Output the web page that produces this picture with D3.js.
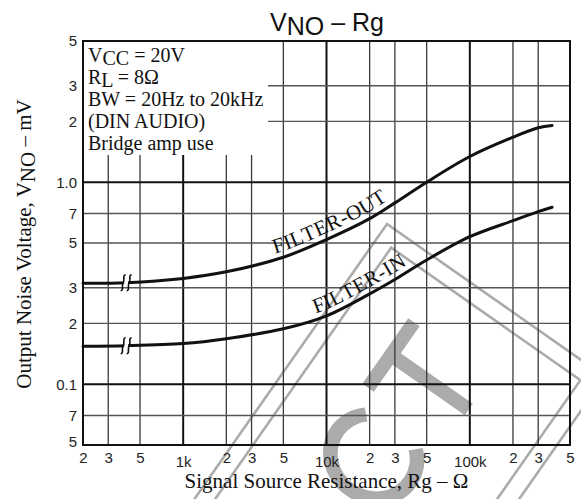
<!DOCTYPE html>
<html><head><meta charset="utf-8">
<script src="https://cdn.jsdelivr.net/npm/d3@7"></script>
<style>body{margin:0;background:#fff}svg{display:block}</style>
</head><body><svg id="chart" width="581" height="499"></svg>
<script>
// Axis ticks and labels
const rgTicks = [200, 300, 500, 1e3, 2e3, 3e3, 5e3, 1e4, 2e4, 3e4, 5e4, 1e5, 2e5, 3e5, 5e5];
const rgTickLabels = ["2", "3", "5", "1k", "2", "3", "5", "10k", "2", "3", "5", "100k", "2", "3", "5"];
const vTicks = [5, 3, 2, 1, 0.7, 0.5, 0.3, 0.2, 0.1, 0.07, 0.05];
const vTickLabels = ["5", "3", "2", "1.0", "7", "5", "3", "2", "0.1", "7", "5"];

// Output noise voltage (mV) vs signal source resistance (ohm)
const rgPoints = [200, 400, 1e3, 2e3, 5e3, 1e4, 2e4, 3e4, 5e4, 1e5, 2e5, 3e5, 3.75e5];
const filterOut = [0.316, 0.318, 0.334, 0.360, 0.425, 0.52, 0.66, 0.79, 1.0, 1.34, 1.67, 1.86, 1.91];
const filterIn = [0.154, 0.155, 0.159, 0.168, 0.188, 0.218, 0.280, 0.330, 0.412, 0.537, 0.645, 0.715, 0.752];
const breakAt = 400;

const conditions = ["BW = 20Hz to 20kHz", "(DIN AUDIO)", "Bridge amp use"];

const W = 581, H = 499;
const m = {left: 83, top: 41, right: 11, bottom: 54};
const svg = d3.select("#chart");

const x = d3.scaleLog().domain([200, 5e5]).range([m.left, W - m.right]);
const y = d3.scaleLog().domain([0.05, 5]).range([H - m.bottom, m.top]);

const serif = "'Liberation Serif','Times New Roman',serif";
const sans = "'Liberation Sans',Arial,sans-serif";

// ---- stamp in the background ----
const stampGray = "#ababab";
// double frame, tilted, with its corner at (387,224)
const frame = svg.append("g").attr("transform", "translate(387,224) rotate(-55)")
  .attr("fill", "none").attr("stroke", stampGray).attr("stroke-width", 2.6);
frame.append("rect").attr("x", -900).attr("y", 0).attr("width", 900).attr("height", 266);
frame.append("rect").attr("x", -900).attr("y", 17).attr("width", 883).attr("height", 231);
// lettering "...CT"
const letters = svg.append("g").attr("transform", "translate(391,355) rotate(-55)").attr("fill", stampGray);
letters.append("rect").attr("x", -40).attr("y", -7).attr("width", 80).attr("height", 14);
letters.append("rect").attr("x", -7).attr("y", 0).attr("width", 14).attr("height", 95);
letters.append("path").attr("transform", "translate(-93,44) scale(0.92,1)")
  .attr("d", d3.arc().innerRadius(37).outerRadius(52).startAngle(Math.PI / 2 + 0.75).endAngle(Math.PI * 2.5 - 0.75)());

// ---- grid ----
const innerX = rgTicks.slice(1, -1);
const innerY = vTicks.slice(1, -1);
const isDecade = v => Math.abs(Math.log10(v) - Math.round(Math.log10(v))) < 1e-9;

const grid = svg.append("g");
grid.selectAll("line.v").data(innerX).join("line")
  .attr("x1", d => x(d)).attr("x2", d => x(d))
  .attr("y1", m.top).attr("y2", H - m.bottom)
  .attr("stroke", d => isDecade(d) ? "#111" : "#3a3a3a")
  .attr("stroke-width", d => isDecade(d) ? 2 : 1.3);
grid.selectAll("line.h").data(innerY).join("line")
  .attr("x1", m.left).attr("x2", W - m.right)
  .attr("y1", d => y(d)).attr("y2", d => y(d))
  .attr("stroke", d => isDecade(d) ? "#111" : "#555")
  .attr("stroke-width", d => isDecade(d) ? 2 : 1.4);

// white panel holding the operating conditions
svg.append("rect").attr("x", m.left + 1).attr("y", m.top + 1)
  .attr("width", 268 - m.left - 1).attr("height", 155 - m.top - 1).attr("fill", "#fff");

// frame
svg.append("rect").attr("x", m.left).attr("y", m.top)
  .attr("width", W - m.left - m.right).attr("height", H - m.top - m.bottom)
  .attr("fill", "none").attr("stroke", "#111").attr("stroke-width", 2);

// ---- tick labels ----
const yAxis = d3.axisLeft(y).tickValues(vTicks).tickSize(0).tickPadding(6)
  .tickFormat((d, i) => vTickLabels[i]);
const gy = svg.append("g").attr("transform", `translate(${m.left},0)`).call(yAxis);
gy.select(".domain").remove();
gy.selectAll("text").attr("font-family", sans).attr("font-size", 15).attr("fill", "#222");
gy.selectAll(".tick").filter(d => d === 0.05).select("text").attr("dy", "0.1em");

const xAxis = d3.axisBottom(x).tickValues(rgTicks).tickSize(0).tickPadding(7)
  .tickFormat((d, i) => rgTickLabels[i]);
const gx = svg.append("g").attr("transform", `translate(0,${H - m.bottom})`).call(xAxis);
gx.select(".domain").remove();
gx.selectAll("text").attr("font-family", sans).attr("font-size", 15).attr("fill", "#222");
gx.selectAll(".tick").filter(d => isDecade(d)).select("text").attr("dy", "1.0em");

// ---- curves ----
const line = d3.line().x(d => x(d[0])).y(d => y(d[1])).curve(d3.curveCatmullRom.alpha(0.5));
const series = [
  {name: "FILTER-OUT", values: filterOut, labelAt: 4.5e3},
  {name: "FILTER-IN", values: filterIn, labelAt: 8.7e3}
];
series.forEach((s, i) => {
  const pts = rgPoints.map((r, j) => [r, s.values[j]]);
  const path = svg.append("path").attr("d", line(pts))
    .attr("fill", "none").attr("stroke", "#111").attr("stroke-width", 3)
    .attr("stroke-linecap", "round");

  // label set letter by letter along the curve, a little above it
  const node = path.node();
  const total = node.getTotalLength();
  const startX = x(s.labelAt);
  let lo = 0, hi = total;
  for (let k = 0; k < 40; k++) {
    const mid = (lo + hi) / 2;
    if (node.getPointAtLength(mid).x < startX) lo = mid; else hi = mid;
  }
  const lab = svg.append("g").style("font-family", serif).style("font-size", "21px").attr("fill", "#111");
  let pos = lo;
  const gap = 0.6, lift = 6;
  for (const ch of s.name) {
    const t = lab.append("text").attr("text-anchor", "middle").text(ch);
    const w = t.node().getComputedTextLength();
    const c = pos + w / 2;
    const p = node.getPointAtLength(c);
    const a = node.getPointAtLength(Math.max(0, c - 2)), b = node.getPointAtLength(Math.min(total, c + 2));
    const ang = Math.atan2(b.y - a.y, b.x - a.x);
    const nx = Math.sin(ang), ny = -Math.cos(ang);
    t.attr("transform", `translate(${p.x + nx * lift},${p.y + ny * lift}) rotate(${ang * 180 / Math.PI})`);
    pos += w + gap;
  }

  // break mark on the flat section
  const bx = x(breakAt), by = y(s.values[rgPoints.indexOf(breakAt)]);
  const mk = svg.append("g").attr("transform", `translate(${bx},${by})`);
  mk.append("rect").attr("x", -2).attr("y", -2.5).attr("width", 4).attr("height", 5).attr("fill", "#fff");
  [-3, 3].forEach(dx => {
    mk.append("path")
      .attr("d", `M${dx + 2.5},-8 C${dx - 1},-8 ${dx + 2},-2 ${dx},0 C${dx - 2},2 ${dx + 1},8 ${dx - 2.5},8`)
      .attr("fill", "none").attr("stroke", "#111").attr("stroke-width", 1.6);
  });
});

// ---- operating conditions ----
const cond = svg.append("g").attr("font-family", serif).attr("font-size", 20).attr("fill", "#111");
const t1 = cond.append("text").attr("x", 88).attr("y", 62);
t1.append("tspan").text("V");
t1.append("tspan").attr("dy", 3).text("CC");
t1.append("tspan").attr("dy", -3).text(" = 20V");
const t2 = cond.append("text").attr("x", 88).attr("y", 84);
t2.append("tspan").text("R");
t2.append("tspan").attr("dy", 3).text("L");
t2.append("tspan").attr("dy", -3).text(" = 8\u03A9");
conditions.forEach((c, i) => {
  cond.append("text").attr("x", 88).attr("y", 106 + 22 * i).text(c);
});

// ---- titles ----
const title = svg.append("text").attr("x", 270).attr("y", 31)
  .attr("font-family", sans).attr("font-size", 25).attr("fill", "#111");
title.append("tspan").text("V");
title.append("tspan").attr("dy", 4).text("NO");
title.append("tspan").attr("dy", -4).text(" \u2013 Rg");

svg.append("text").attr("x", (m.left + W - m.right) / 2).attr("y", 488)
  .attr("text-anchor", "middle").attr("font-family", serif).attr("font-size", 21)
  .attr("fill", "#111").text("Signal Source Resistance, Rg \u2013 \u03A9");

const yt = svg.append("text").attr("transform", "translate(31,244) rotate(-90)")
  .attr("text-anchor", "middle").attr("font-family", serif).attr("font-size", 21).attr("fill", "#111");
yt.append("tspan").text("Output Noise Voltage, V");
yt.append("tspan").attr("dy", 4).text("NO");
yt.append("tspan").attr("dy", -4).text(" \u2013 mV");
</script></body></html>
